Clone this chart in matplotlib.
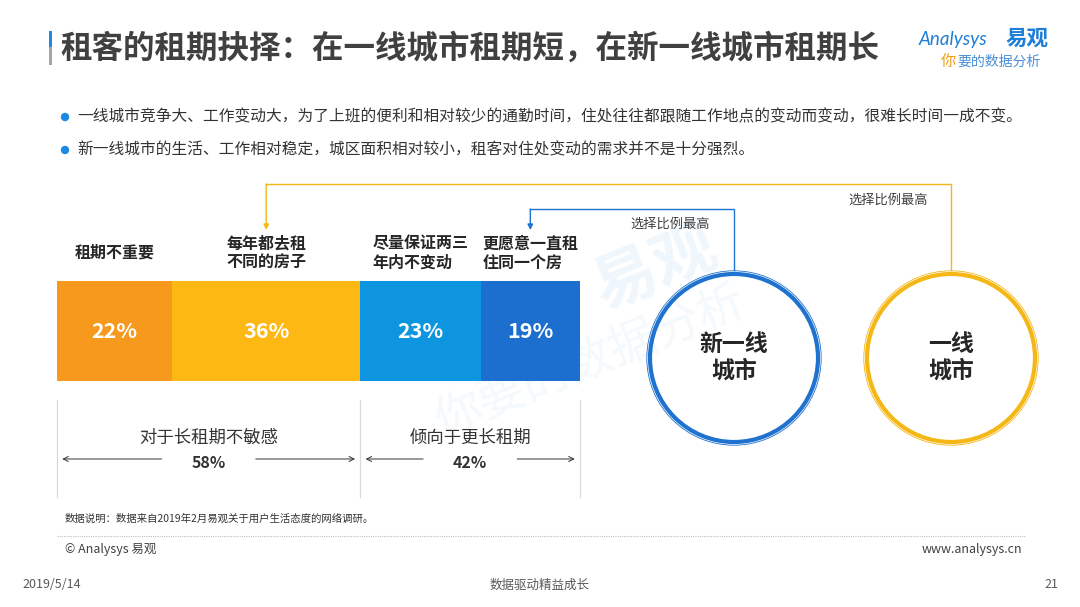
import matplotlib
matplotlib.use("Agg")
import matplotlib.pyplot as plt
from matplotlib.patches import Circle, Rectangle

plt.rcParams['font.family'] = ['Noto Sans CJK SC', 'DejaVu Sans']

# ---------------- data ----------------
categories = ["租期不重要", "每年都去租\n不同的房子", "尽量保证两三\n年内不变动", "更愿意一直租\n住同一个房"]
values = [22, 36, 23, 19]
value_labels = ["22%", "36%", "23%", "19%"]
colors = ["#F7991C", "#FDB813", "#0E95DF", "#1C6FCF"]
groups = ["对于长租期不敏感", "倾向于更长租期"]
group_values = [58, 42]
group_labels = ["58%", "42%"]
cities = ["新一线\n城市", "一线\n城市"]
city_colors = ["#1F72CE", "#F5B716"]
city_pick = [3, 1]          # index of the category each city chooses most
pick_text = "选择比例最高"

title = "租客的租期抉择：在一线城市租期短，在新一线城市租期长"
bullets = ["一线城市竞争大、工作变动大，为了上班的便利和相对较少的通勤时间，住处往往都跟随工作地点的变动而变动，很难长时间一成不变。",
           "新一线城市的生活、工作相对稳定，城区面积相对较小，租客对住处变动的需求并不是十分强烈。"]
note = "数据说明：数据来自2019年2月易观关于用户生活态度的网络调研。"

W, H = 1080, 607
fig = plt.figure(figsize=(W / 100, H / 100), dpi=100)
bg = fig.add_axes([0, 0, 1, 1])
bg.set_xlim(0, W)
bg.set_ylim(H, 0)
bg.axis('off')

TXT = "#404040"

# ---------------- header ----------------
bg.add_patch(Rectangle((48.5, 31), 3, 16, color="#1E88E5", lw=0))
bg.add_patch(Rectangle((48.5, 47), 3, 18, color="#A6A6A6", lw=0))
bg.text(60, 49, title, fontsize=22.7, fontweight='bold', color=TXT, va='center', ha='left')

# logo
bg.text(919, 39, "Analysys", fontsize=13.5, color="#1E7FD8", va='center', ha='left',
        family=['Lato', 'DejaVu Sans'], style='italic')
bg.text(1006, 38, "易观", fontsize=15.5, fontweight='bold', color="#1E7FD8", va='center', ha='left')
bg.text(941, 61, "你", fontsize=11, color="#F39C12", va='center', ha='left')
bg.text(957, 62, "要的数据分析", fontsize=10, color="#4A90D9", va='center', ha='left')

# bullets
for i, b in enumerate(bullets):
    y = 117 + i * 33
    bg.add_patch(Circle((65, y), 4.2, color="#1E88E5", lw=0))
    bg.text(77, y, b, fontsize=11.3, color="#333333", va='center', ha='left')

# ---------------- watermark ----------------
bg.text(655, 268, "易观", fontsize=46, fontweight='bold', color="#5AA5E6", alpha=0.09,
        rotation=22, ha='center', va='center', zorder=0)
bg.text(590, 362, "你要的数据分析", fontsize=34, color="#5AA5E6", alpha=0.07,
        rotation=22, ha='center', va='center', zorder=0)

# ---------------- stacked bar ----------------
bx0, bx1, by0, by1 = 57, 580, 281, 381
ax = fig.add_axes([bx0 / W, 1 - by1 / H, (bx1 - bx0) / W, (by1 - by0) / H])
ax.set_xlim(0, 100)
ax.set_ylim(-0.5, 0.5)
ax.axis('off')

left = 0
centers = []
for cat, v, lab, c in zip(categories, values, value_labels, colors):
    ax.barh(0, v, left=left, height=1, color=c, lw=0)
    ctr = left + v / 2
    centers.append(ctr)
    ax.text(ctr, 0, lab, color='white', fontsize=15.5, fontweight='bold', ha='center', va='center')
    left += v

xt = ax.get_xaxis_transform()


def ay(py):
    return (by1 - py) / (by1 - by0)


for cat, ctr in zip(categories, centers):
    ax.text(ctr, ay(253), cat, fontsize=11.5, fontweight='bold', color="#262626",
            ha='center', va='center', multialignment='left', linespacing=1.25,
            transform=xt, clip_on=False)

# group brackets
edges = [0]
for g in group_values:
    edges.append(edges[-1] + g)
for e in edges:
    ax.plot([e, e], [ay(400), ay(497)], color="#D9D9D9", lw=0.9, transform=xt, clip_on=False)

for i, (g, gl) in enumerate(zip(groups, group_labels)):
    a, b = edges[i], edges[i + 1]
    mid = (a + b) / 2
    ax.text(mid, ay(438), g, fontsize=12.5, color="#333333", ha='center', va='center',
            transform=xt, clip_on=False)
    ax.text(mid, ay(463), gl, fontsize=11.5, fontweight='bold', color="#333333",
            ha='center', va='center', transform=xt, clip_on=False)
    gap = 9
    for tip, start in [(a + 1, mid - gap), (b - 1, mid + gap)]:
        ax.annotate("", xy=(tip, ay(459)), xytext=(start, ay(459)),
                    xycoords=xt, textcoords=xt,
                    arrowprops=dict(arrowstyle='->', color='#333333', lw=0.7,
                                    shrinkA=0, shrinkB=0, mutation_scale=9),
                    annotation_clip=False)

# ---------------- circles and connectors ----------------
circle_x = [734, 951]
cy, r = 358, 84
line_y = [209, 184]
label_pos = [(670, 224), (888, 200)]
to_bg = bg.transData.inverted()
for cx, name, col, pick, ly, lp in zip(circle_x, cities, city_colors, city_pick, line_y, label_pos):
    bg.add_patch(Circle((cx, cy), r, fill=False, ec=col, lw=3.0))
    bg.add_patch(Circle((cx, cy), r + 3.2, fill=False, ec=col, lw=0.6))
    bg.text(cx, cy, name, fontsize=16.5, fontweight='bold', color="#262626",
            ha='center', va='center', linespacing=1.2)
    # x-position of the picked category label, from the bar axes
    disp = ax.transData.transform((centers[pick], 0))
    px = to_bg.transform(disp)[0]
    bg.plot([cx, cx, px], [cy - r - 4, ly, ly], color=col, lw=1.0, solid_joinstyle='miter')
    bg.annotate("", xy=(px, 230), xytext=(px, ly),
                arrowprops=dict(arrowstyle='-|>', color=col, lw=1.0, shrinkA=0, shrinkB=0,
                                mutation_scale=8))
    bg.text(lp[0], lp[1], pick_text, fontsize=9.5, color=TXT, ha='center', va='center')

# ---------------- footer ----------------
bg.text(65, 519, note, fontsize=7.5, color="#333333", ha='left', va='center')
bg.plot([57, 1025], [536, 536], color="#BFBFBF", lw=0.8, ls=(0, (1, 1)))
bg.text(65, 549, "© Analysys 易观", fontsize=9, color="#404040", ha='left', va='center')
bg.text(1022, 549, "www.analysys.cn", fontsize=9, color="#404040", ha='right', va='center')
bg.text(22, 585, "2019/5/14", fontsize=9, color="#595959", ha='left', va='center')
bg.text(540, 585, "数据驱动精益成长", fontsize=9, color="#595959", ha='center', va='center')
bg.text(1058, 585, "21", fontsize=9, color="#595959", ha='right', va='center')

fig.savefig("out.png", dpi=100)
